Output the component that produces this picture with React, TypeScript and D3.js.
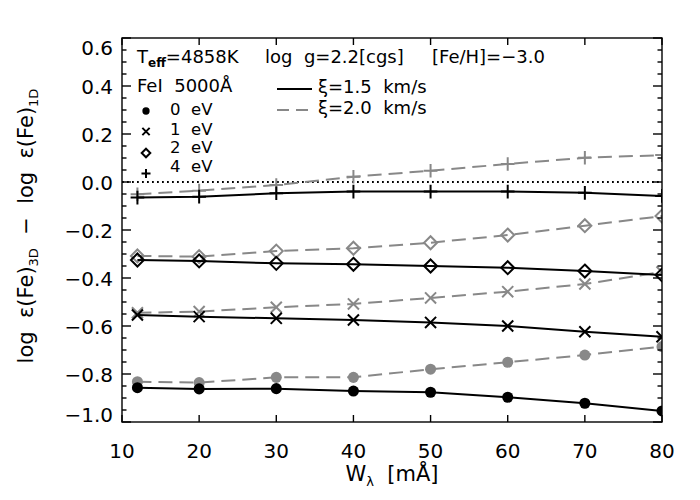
import { useEffect, useRef } from "react";
import * as d3 from "d3";

// Anchura equivalente (mÅ)
const anchos = [12, 20, 30, 40, 50, 60, 70, 80];

// 3D - 1D por potencial de excitación, xi = 1.5 y 2.0 km/s
const ev0Xi15 = [-0.857, -0.862, -0.861, -0.871, -0.876, -0.897, -0.922, -0.954];
const ev0Xi20 = [-0.832, -0.836, -0.814, -0.814, -0.78, -0.751, -0.721, -0.686];
const ev1Xi15 = [-0.554, -0.561, -0.568, -0.575, -0.585, -0.6, -0.624, -0.645];
const ev1Xi20 = [-0.545, -0.54, -0.522, -0.508, -0.483, -0.457, -0.425, -0.375];
const ev2Xi15 = [-0.325, -0.329, -0.339, -0.343, -0.35, -0.357, -0.371, -0.387];
const ev2Xi20 = [-0.308, -0.311, -0.288, -0.276, -0.253, -0.221, -0.182, -0.142];
const ev4Xi15 = [-0.065, -0.061, -0.047, -0.04, -0.04, -0.04, -0.045, -0.058];
const ev4Xi20 = [-0.051, -0.036, -0.013, 0.022, 0.047, 0.075, 0.101, 0.112];

const xTicks = [10, 20, 30, 40, 50, 60, 70, 80];
const yTicks = [-1.0, -0.8, -0.6, -0.4, -0.2, 0.0, 0.2, 0.4, 0.6];
const yTickLabels = ["\u22121.0", "\u22120.8", "\u22120.6", "\u22120.4", "\u22120.2", "0.0", "0.2", "0.4", "0.6"];
const legendEv = ["0\u00a0\u00a0eV", "1\u00a0\u00a0eV", "2\u00a0\u00a0eV", "4\u00a0\u00a0eV"];

const FONT = "DejaVu Sans, sans-serif";
const GRIS = "#888888";
const SP = "\u00a0";

const App = () => {
  const ref = useRef<HTMLDivElement>(null);

  useEffect(() => {
    if (!ref.current) return;
    d3.select(ref.current).selectAll("*").remove();

    const width = 700;
    const height = 500;
    const left = 122, right = 662, top = 38, bottom = 422;

    const svg = d3
      .select(ref.current)
      .append("svg")
      .attr("width", width)
      .attr("height", height)
      .style("position", "absolute")
      .style("left", "0px")
      .style("top", "0px")
      .style("background", "#fff")
      .style("font-family", FONT);

    const x = d3.scaleLinear().domain([10, 80]).range([left, right]);
    const y = d3.scaleLinear().domain([-1.0, 0.6]).range([bottom, top]);

    svg.append("clipPath").attr("id", "zona")
      .append("rect")
      .attr("x", left).attr("y", top)
      .attr("width", right - left).attr("height", bottom - top);

    // simbolos
    const dibujarSimbolo = (g, tipo, cx, cy, color, s) => {
      if (tipo === 0) {
        g.append("circle").attr("cx", cx).attr("cy", cy).attr("r", s * 0.85).attr("fill", color);
      } else if (tipo === 1) {
        const h = s * 0.85;
        g.append("path")
          .attr("d", `M${cx - h},${cy - h}L${cx + h},${cy + h}M${cx - h},${cy + h}L${cx + h},${cy - h}`)
          .attr("stroke", color).attr("stroke-width", 2).attr("fill", "none");
      } else if (tipo === 2) {
        const h = s;
        g.append("path")
          .attr("d", `M${cx},${cy - h}L${cx + h},${cy}L${cx},${cy + h}L${cx - h},${cy}Z`)
          .attr("stroke", color).attr("stroke-width", 2).attr("fill", "none");
      } else {
        const h = s * 1.05;
        g.append("path")
          .attr("d", `M${cx - h},${cy}L${cx + h},${cy}M${cx},${cy - h}L${cx},${cy + h}`)
          .attr("stroke", color).attr("stroke-width", 2).attr("fill", "none");
      }
    };

    const datos = svg.append("g").attr("clip-path", "url(#zona)");

    // linea de cero
    datos.append("line")
      .attr("x1", x(10)).attr("x2", x(80))
      .attr("y1", y(0)).attr("y2", y(0))
      .attr("stroke", "#000").attr("stroke-width", 1.8)
      .attr("stroke-dasharray", "1.8,3.2");

    const series = [
      { tipo: 0, vals: ev0Xi20, gris: true },
      { tipo: 0, vals: ev0Xi15, gris: false },
      { tipo: 1, vals: ev1Xi20, gris: true },
      { tipo: 1, vals: ev1Xi15, gris: false },
      { tipo: 2, vals: ev2Xi20, gris: true },
      { tipo: 2, vals: ev2Xi15, gris: false },
      { tipo: 3, vals: ev4Xi20, gris: true },
      { tipo: 3, vals: ev4Xi15, gris: false },
    ];

    const linea = d3.line<number>().x((d, i) => x(anchos[i])).y((d) => y(d));

    series.forEach((s) => {
      const color = s.gris ? GRIS : "#000";
      datos.append("path")
        .attr("d", linea(s.vals))
        .attr("fill", "none")
        .attr("stroke", color)
        .attr("stroke-width", 2)
        .attr("stroke-dasharray", s.gris ? "14,7" : null);
      s.vals.forEach((v, i) => dibujarSimbolo(datos, s.tipo, x(anchos[i]), y(v), color, 6.5));
    });

    // ejes
    const ejes = svg.append("g").attr("stroke", "#000").attr("stroke-width", 1.4);
    ejes.append("rect")
      .attr("x", left).attr("y", top)
      .attr("width", right - left).attr("height", bottom - top)
      .attr("fill", "none");

    xTicks.forEach((t) => {
      ejes.append("line").attr("x1", x(t)).attr("x2", x(t)).attr("y1", bottom).attr("y2", bottom - 7);
      ejes.append("line").attr("x1", x(t)).attr("x2", x(t)).attr("y1", top).attr("y2", top + 7);
    });

    d3.range(-1.0, 0.6001, 0.05).forEach((t) => {
      const mayor = Math.abs(Math.round(t * 5) - t * 5) < 1e-6;
      const len = mayor ? 9 : 4.5;
      ejes.append("line").attr("x1", left).attr("x2", left + len).attr("y1", y(t)).attr("y2", y(t));
      ejes.append("line").attr("x1", right).attr("x2", right - len).attr("y1", y(t)).attr("y2", y(t));
    });

    // etiquetas de ticks
    xTicks.forEach((t) => {
      svg.append("text")
        .attr("x", x(t)).attr("y", 458)
        .attr("text-anchor", "middle")
        .style("font-size", "20px")
        .text(t);
    });

    yTicks.forEach((t, i) => {
      let dy = 0;
      if (i === 0) dy = -8;
      if (i === yTicks.length - 1) dy = 9;
      svg.append("text")
        .attr("x", 113).attr("y", y(t) + dy + 7.5)
        .attr("text-anchor", "end")
        .style("font-size", "20px")
        .text(yTickLabels[i]);
    });

    // titulo eje x
    const tx = svg.append("text")
      .attr("x", 392).attr("y", 481)
      .attr("text-anchor", "middle")
      .style("font-size", "21px");
    tx.append("tspan").text("W");
    tx.append("tspan").attr("dy", 5).style("font-size", "13px").text("\u03bb");
    tx.append("tspan").attr("dy", -5).text(`${SP}${SP}[m\u00c5]`);

    // titulo eje y
    const ty = svg.append("text")
      .attr("transform", "translate(33,226) rotate(-90)")
      .attr("text-anchor", "middle")
      .style("font-size", "21px");
    ty.append("tspan").text(`log${SP}${SP}\u03b5(Fe)`);
    ty.append("tspan").attr("dy", 5).style("font-size", "13px").text("3D");
    ty.append("tspan").attr("dy", -5).text(`${SP}${SP}\u2212${SP}${SP}log${SP}${SP}\u03b5(Fe)`);
    ty.append("tspan").attr("dy", 5).style("font-size", "13px").text("1D");

    // leyenda
    const leg = svg.append("g").style("font-size", "18px");
    const t1 = leg.append("text").attr("x", 137).attr("y", 63);
    t1.append("tspan").text("T");
    t1.append("tspan").attr("dy", 4).style("font-size", "12px").style("font-weight", "bold").text("eff");
    t1.append("tspan").attr("dy", -4).text("=4858K");
    leg.append("text").attr("x", 265).attr("y", 63).text(`log${SP}${SP}g=2.2[cgs]`);
    leg.append("text").attr("x", 432).attr("y", 63).text("[Fe/H]=\u22123.0");
    leg.append("text").attr("x", 137).attr("y", 92).text(`FeI${SP}${SP}5000\u00c5`);

    const filasY = [111, 131.5, 153, 173.5];
    legendEv.forEach((txt, i) => {
      dibujarSimbolo(leg, i, 146, filasY[i], "#000", 4.3);
      leg.append("text").attr("x", 170).attr("y", [115, 134.5, 153, 172][i])
        .style("font-size", "16.5px")
        .text(txt);
    });

    leg.append("line").attr("x1", 277).attr("x2", 312).attr("y1", 89).attr("y2", 89)
      .attr("stroke", "#000").attr("stroke-width", 2);
    leg.append("text").attr("x", 318).attr("y", 93).text(`\u03be=1.5${SP}${SP}km/s`);
    leg.append("line").attr("x1", 277).attr("x2", 312).attr("y1", 110).attr("y2", 110)
      .attr("stroke", GRIS).attr("stroke-width", 2).attr("stroke-dasharray", "12,7");
    leg.append("text").attr("x", 318).attr("y", 114).text(`\u03be=2.0${SP}${SP}km/s`);
  }, []);

  return <div ref={ref} />;
};

export default App;
